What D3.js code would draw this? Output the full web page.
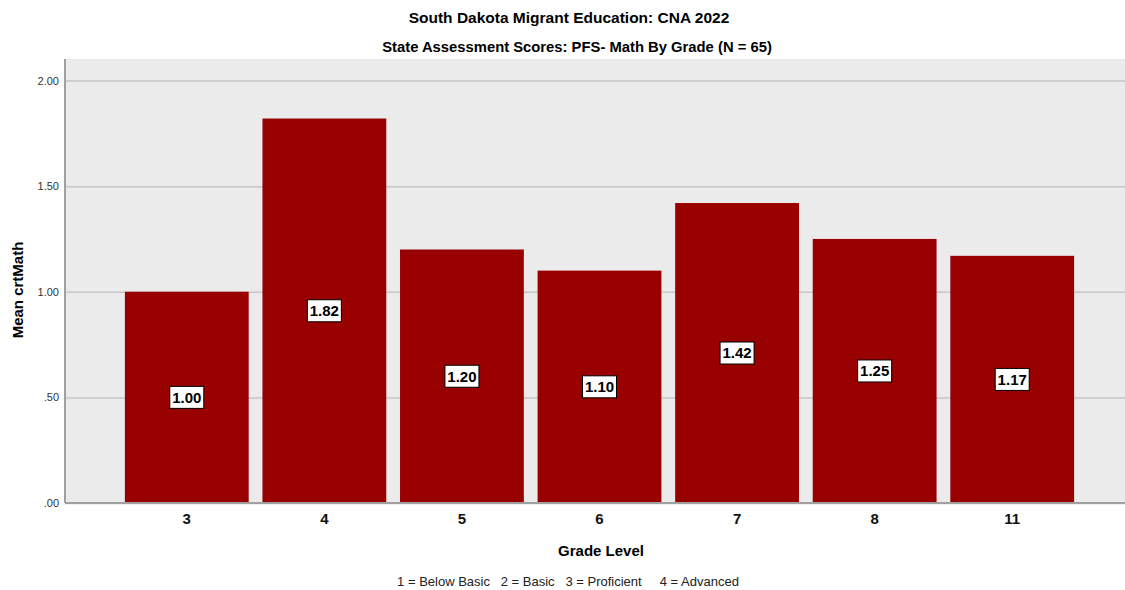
<!DOCTYPE html>
<html><head><meta charset="utf-8">
<script src="https://cdn.jsdelivr.net/npm/d3@7"></script>
<style>body{margin:0;background:#fff;font-family:"Liberation Sans",Arial,sans-serif;}</style>
</head><body><svg id="c" width="1125" height="590"></svg>
<script>
const grades = ["3","4","5","6","7","8","11"];
const means = [1.00, 1.82, 1.20, 1.10, 1.42, 1.25, 1.17];
const yTicks = [0, 0.5, 1.0, 1.5, 2.0];
const yTickLabels = [".00", ".50", "1.00", "1.50", "2.00"];

const svg = d3.select("#c");
const L = 65, T = 59, R = 1125, B = 503;
const y = d3.scaleLinear().domain([0, 2]).range([B, 80.5]);
const x = d3.scaleBand().domain(grades).range([118, 1081]).paddingInner(0.1).paddingOuter(0.05);

svg.append("rect").attr("x", L).attr("y", T).attr("width", R - L).attr("height", B - T).attr("fill", "#ebebeb");

const yAxis = d3.axisLeft(y).tickValues(yTicks).tickFormat((d, i) => yTickLabels[i]).tickSize(-(R - L)).tickPadding(6);
const gy = svg.append("g").attr("transform", `translate(${L},0)`).call(yAxis);
gy.select(".domain").remove();
gy.selectAll(".tick line").attr("stroke", "#c6c6c6").attr("stroke-width", 1.5);
gy.selectAll(".tick text").attr("font-size", 11).attr("fill", "#333").attr("font-family", "Liberation Sans, Arial, sans-serif");

svg.selectAll("rect.bar").data(grades).enter().append("rect").attr("class", "bar")
  .attr("x", d => x(d)).attr("width", x.bandwidth())
  .attr("y", (d, i) => y(means[i])).attr("height", (d, i) => B - y(means[i]))
  .attr("fill", "#990000");

svg.append("line").attr("x1", L).attr("x2", R).attr("y1", B).attr("y2", B).attr("stroke", "#a0a0a0").attr("stroke-width", 2);
svg.append("line").attr("x1", L).attr("x2", L).attr("y1", T).attr("y2", B).attr("stroke", "#a0a0a0").attr("stroke-width", 2);

const xAxis = d3.axisBottom(x).tickSize(0).tickPadding(10);
const gx = svg.append("g").attr("transform", `translate(0,${B})`).call(xAxis);
gx.select(".domain").remove();
gx.selectAll(".tick text").attr("font-size", 15).attr("font-weight", "bold").attr("fill", "#111").attr("font-family", "Liberation Sans, Arial, sans-serif");

const lab = svg.selectAll("g.lab").data(grades).enter().append("g").attr("class", "lab")
  .attr("transform", (d, i) => `translate(${x(d) + x.bandwidth() / 2},${y(means[i] / 2)})`);
lab.append("rect").attr("x", -17).attr("y", -11).attr("width", 34).attr("height", 22).attr("fill", "#fff").attr("stroke", "#000").attr("stroke-width", 1);
lab.append("text").attr("text-anchor", "middle").attr("dy", "0.36em").attr("font-size", 15).attr("font-weight", "bold").attr("fill", "#000")
  .text((d, i) => means[i].toFixed(2));

svg.append("text").attr("x", 569).attr("y", 23).attr("text-anchor", "middle").attr("font-size", 15.5).attr("font-weight", "bold").text("South Dakota Migrant Education: CNA 2022");
svg.append("text").attr("x", 577).attr("y", 52).attr("text-anchor", "middle").attr("font-size", 14.8).attr("font-weight", "bold").text("State Assessment Scores: PFS- Math By Grade (N = 65)");
svg.append("text").attr("transform", "translate(23,290) rotate(-90)").attr("text-anchor", "middle").attr("font-size", 15).attr("font-weight", "bold").text("Mean crtMath");
svg.append("text").attr("x", 601).attr("y", 556).attr("text-anchor", "middle").attr("font-size", 15).attr("font-weight", "bold").text("Grade Level");
svg.append("text").attr("x", 568).attr("y", 586).attr("text-anchor", "middle").attr("font-size", 13).attr("fill", "#222").attr("xml:space", "preserve").text("1 = Below Basic   2 = Basic   3 = Proficient     4 = Advanced");
</script></body></html>
